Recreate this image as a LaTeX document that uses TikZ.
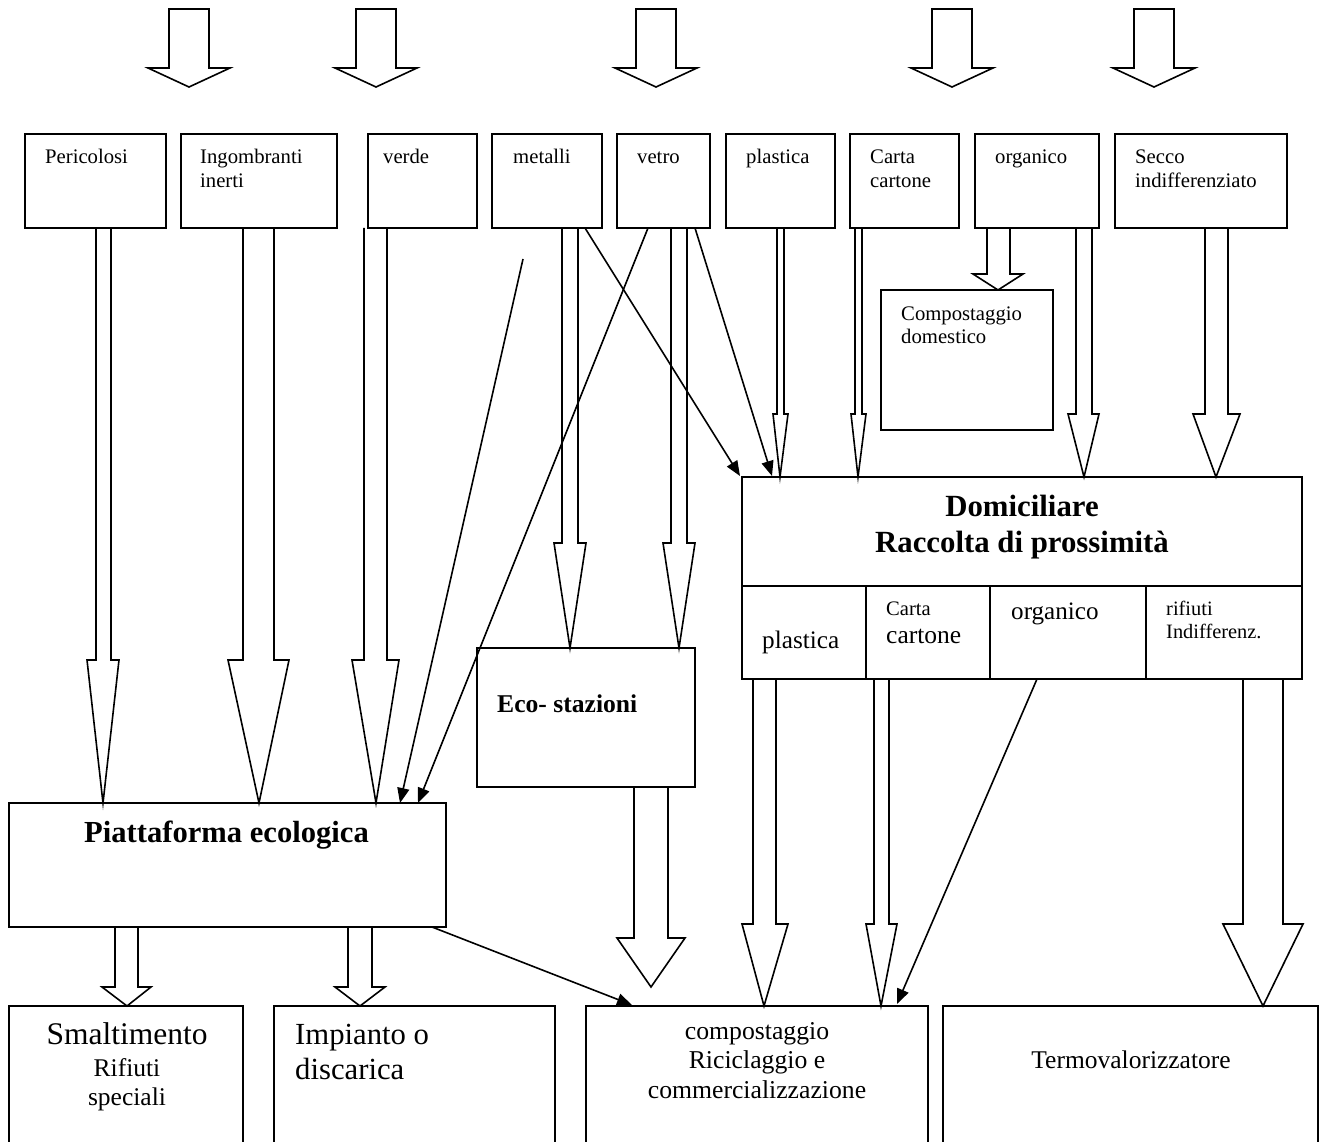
\documentclass[tikz,border=0pt]{standalone}
\usepackage{fontspec}
\setmainfont{Liberation Serif}
\usetikzlibrary{arrows.meta,fit}
\newcommand\ftop{\fontsize{20.7}{24}\selectfont}
\newcommand\fmid{\fontsize{25.5}{30}\selectfont}
\newcommand\fbig{\fontsize{30.8}{36}\selectfont}
% open block arrow: xl xr hl hr tipx ytop ybase ytip
\newcommand\barrow[8]{\draw[blockarrow] (#1,#6) -- (#1,#7) -- (#3,#7) -- (#5,#8) -- (#4,#7) -- (#2,#7) -- (#2,#6);}
% closed block arrow (free standing)
\newcommand\carrow[1]{\draw[blockarrow] (#1-20,9) -- (#1-20,68) -- (#1-41,68) -- (#1,87) -- (#1+41,68) -- (#1+20,68) -- (#1+20,9) -- cycle;}
\newcommand\mkbox[5]{\node[boxshape,fit={(#2,#3) (#4,#5)}] (#1) {};}
\begin{document}
\begin{tikzpicture}[x=1pt,y=-1pt,
  boxshape/.style={draw,line width=1.8pt,inner sep=0pt},
  lbl/.style={inner sep=0pt,anchor=base west},
  lblc/.style={inner sep=0pt,anchor=base},
  blockarrow/.style={draw,line width=1.6pt,line join=miter},
  thinarrow/.style={line width=1.6pt,-{Triangle[length=15pt,width=12pt]}}]
\useasboundingbox (0,0) rectangle (1328,1142);
\clip (0,0) rectangle (1328,1142);
\fill[white] (0,0) rectangle (1328,1142);

% ---- top free-standing block arrows
\carrow{189}
\carrow{376}
\carrow{656}
\carrow{952}
\carrow{1154}

% ---- top boxes
\mkbox{peric}{25}{134}{166}{228}
\mkbox{ingom}{181}{134}{337}{228}
\mkbox{verde}{368}{134}{477}{228}
\mkbox{metal}{492}{134}{602}{228}
\mkbox{vetro}{617}{134}{710}{228}
\mkbox{plast}{726}{134}{835}{228}
\mkbox{carta}{850}{134}{959}{228}
\mkbox{organ}{975}{134}{1099}{228}
\mkbox{secco}{1115}{134}{1287}{228}

\node[lbl,font=\ftop] (tPer) at (45,164) {Pericolosi};
\node[lbl,font=\ftop] (tIng1) at (200,164) {Ingombranti};
\node[lbl,font=\ftop] (tIng2) at (200,188) {inerti};
\node[lbl,font=\ftop] (tVer) at (383,164) {verde};
\node[lbl,font=\ftop] (tMet) at (513,164) {metalli};
\node[lbl,font=\ftop] (tVet) at (637,164) {vetro};
\node[lbl,font=\ftop] (tPla) at (746,164) {plastica};
\node[lbl,font=\ftop] (tCar1) at (870,164) {Carta};
\node[lbl,font=\ftop] (tCar2) at (870,188) {cartone};
\node[lbl,font=\ftop] (tOrg) at (995,164) {organico};
\node[lbl,font=\ftop] (tSec1) at (1135,164) {Secco};
\node[lbl,font=\ftop] (tSec2) at (1135,188) {indifferenziato};

% ---- compostaggio domestico
\mkbox{cdom}{881}{290}{1053}{430}
\node[lbl,font=\ftop] (tCd1) at (901,320) {Compostaggio};
\node[lbl,font=\ftop] (tCd2) at (901,343) {domestico};

% ---- Domiciliare
\mkbox{domic}{742}{477}{1302}{679}
\draw[line width=1.8pt] (domic.west |- 0,586) coordinate (dL) -- (domic.east |- 0,586) coordinate (dR);
\draw[line width=1.8pt] (866,586) -- (866,679);
\draw[line width=1.8pt] (990,586) -- (990,679);
\draw[line width=1.8pt] (1146,586) -- (1146,679);
\node[lblc,font=\bfseries\fbig] (tDom1) at (1022,516) {Domiciliare};
\node[lblc,font=\bfseries\fbig] (tDom2) at (1022,552) {Raccolta di prossimità};
\node[lbl,font=\fontsize{25.2}{30}\selectfont] (cPla) at (762,648) {plastica};
\node[lbl,font=\fontsize{20.6}{24}\selectfont] (cCar1) at (886,615) {Carta};
\node[lbl,font=\fontsize{25.5}{30}\selectfont] (cCar2) at (886,643) {cartone};
\node[lbl,font=\fontsize{25.1}{30}\selectfont] (cOrg) at (1011,619) {organico};
\node[lbl,font=\fontsize{20.4}{24}\selectfont] (cRif1) at (1166,615) {rifiuti};
\node[lbl,font=\fontsize{20.4}{24}\selectfont] (cRif2) at (1166,638) {Indifferenz.};

% ---- Eco-stazioni
\mkbox{eco}{477}{648}{695}{787}
\node[lbl,font=\bfseries\fontsize{25.6}{30}\selectfont] (tEco) at (497,712) {Eco- stazioni};

% ---- Piattaforma
\mkbox{piatt}{9}{803}{446}{927}
\node[lbl,font=\bfseries\fontsize{30.6}{36}\selectfont] (tPia) at (84,842) {Piattaforma ecologica};

% ---- bottom boxes
\mkbox{smalt}{9}{1006}{243}{1170}
\mkbox{impia}{274}{1006}{555}{1170}
\mkbox{compo}{586}{1006}{928}{1170}
\mkbox{termo}{943}{1006}{1318}{1170}
\node[lblc,font=\fontsize{31.5}{36}\selectfont] (tSm1) at (127,1044) {Smaltimento};
\node[lblc,font=\fontsize{25.5}{30}\selectfont] (tSm2) at (127,1076) {Rifiuti};
\node[lblc,font=\fontsize{25.5}{30}\selectfont] (tSm3) at (127,1105) {speciali};
\node[lbl,font=\fontsize{30.7}{36}\selectfont] (tIm1) at (295,1044) {Impianto o};
\node[lbl,font=\fontsize{30.7}{36}\selectfont] (tIm2) at (295,1079) {discarica};
\node[lblc,font=\fontsize{25.7}{30}\selectfont] (tCo1) at (757,1039) {compostaggio};
\node[lblc,font=\fontsize{25.7}{30}\selectfont] (tCo2) at (757,1068) {Riciclaggio e};
\node[lblc,font=\fontsize{25.7}{30}\selectfont] (tCo3) at (757,1098) {commercializzazione};
\node[lblc,font=\fontsize{25.5}{30}\selectfont] (tTe) at (1131,1068) {Termovalorizzatore};

% ---- block connectors
\barrow{96}{111}{87}{119}{103}{228}{660}{803}
\barrow{243}{274}{228}{289}{259}{228}{660}{803}
\barrow{364}{387}{352}{399}{376}{228}{660}{803}
\barrow{562}{578}{554}{586}{570}{228}{543}{648}
\barrow{671}{687}{663}{695}{679}{228}{543}{648}
\barrow{777}{784}{773}{788}{780}{228}{414}{477}
\barrow{855}{862}{851}{866}{858}{228}{414}{477}
\barrow{987}{1010}{973}{1023}{998}{228}{274}{290}
\barrow{1076}{1092}{1068}{1099}{1084}{228}{414}{477}
\barrow{1205}{1228}{1193}{1240}{1216}{228}{414}{477}
\barrow{634}{668}{617}{685}{651}{787}{938}{987}
\barrow{753}{776}{742}{788}{764}{679}{924}{1006}
\barrow{874}{889}{866}{897}{881}{679}{924}{1006}
\barrow{1243}{1283}{1223}{1303}{1263}{679}{924}{1006}
\barrow{115}{138}{102}{151}{127}{927}{987}{1006}
\barrow{348}{372}{335}{385}{360}{927}{987}{1006}

% ---- thin connectors
\coordinate (freeA) at (523,259);
\coordinate (pA) at (400,803);
\coordinate (pB) at (418,803);
\coordinate (vB) at (648,228);
\coordinate (mC) at (585,228);
\coordinate (dC) at (740,476);
\coordinate (vD) at (695,228);
\coordinate (dD) at (772,476);
\coordinate (pE) at (432,927);
\coordinate (cE) at (632,1005);
\coordinate (oF) at (1037,679);
\coordinate (cF) at (897,1004);
\draw[thinarrow] (freeA) -- (pA);
\draw[thinarrow] (vB) -- (pB);
\draw[thinarrow] (mC) -- (dC);
\draw[thinarrow] (vD) -- (dD);
\draw[thinarrow] (pE) -- (cE);
\draw[thinarrow] (oF) -- (cF);
\end{tikzpicture}
\end{document}
